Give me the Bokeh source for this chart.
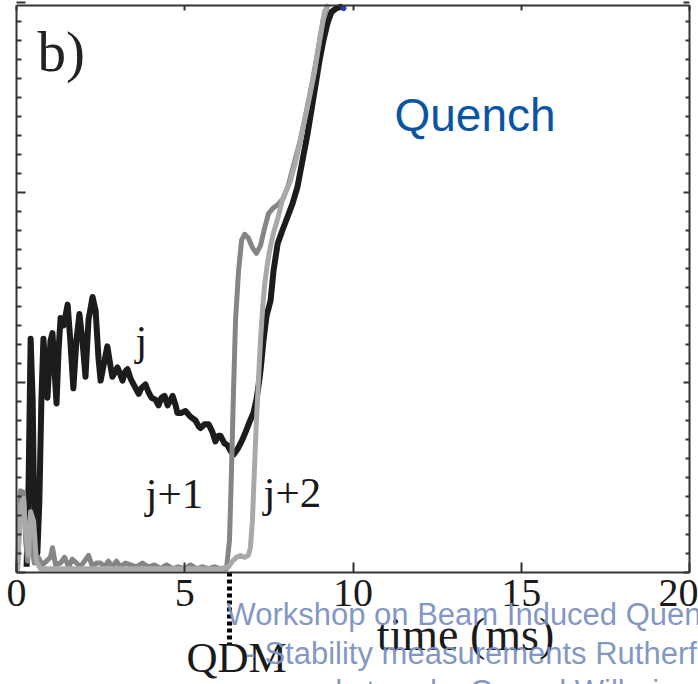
from bokeh.plotting import figure
from bokeh.models import Range1d, LinearAxis, FixedTicker, Label
from bokeh.embed import file_html
from bokeh.resources import INLINE

# ---------------- data (time in ms, signal in arbitrary units) ----------------
j_t = [0.30, 0.36, 0.42, 0.48, 0.53, 0.62, 0.68, 0.74, 0.80, 0.86, 0.92, 1.01, 1.07, 1.13, 1.19,
       1.25, 1.31, 1.40, 1.52, 1.60, 1.69, 1.78, 1.87, 1.96, 2.05, 2.14, 2.26, 2.35, 2.44, 2.50,
       2.62, 2.70, 2.79, 2.85, 2.94, 3.00, 3.09, 3.15, 3.24, 3.30, 3.39, 3.48, 3.57, 3.63, 3.71,
       3.83, 3.92, 4.01, 4.13, 4.22, 4.31, 4.40, 4.49, 4.58, 4.64, 4.73, 4.78, 4.90, 5.02, 5.17,
       5.32, 5.41, 5.47, 5.59, 5.71, 5.82, 5.91, 6.00, 6.06, 6.18, 6.27, 6.36, 6.45, 6.57, 6.69,
       6.81, 6.92, 7.04, 7.13, 7.19, 7.25, 7.34, 7.43, 7.55, 7.64, 7.76, 7.90, 8.05, 8.20, 8.35,
       8.50, 8.65, 8.77, 8.89, 9.00, 9.12, 9.24, 9.36, 9.51, 9.69]
j_v = [0.03, 0.48, 1.23, 0.91, 0.27, 0.10, 0.38, 0.91, 1.23, 1.06, 0.92, 1.22, 1.26, 1.06, 0.89,
       1.17, 1.34, 1.30, 1.41, 1.22, 0.97, 1.22, 1.36, 1.22, 1.03, 1.33, 1.45, 1.38, 1.12, 1.01,
       1.12, 1.19, 1.09, 1.03, 1.06, 1.08, 1.04, 1.01, 1.06, 1.07, 1.02, 0.99, 0.96, 0.94, 0.97,
       0.99, 0.95, 0.92, 0.91, 0.88, 0.92, 0.93, 0.88, 0.91, 0.93, 0.88, 0.84, 0.84, 0.85, 0.82,
       0.80, 0.77, 0.76, 0.78, 0.78, 0.74, 0.69, 0.72, 0.72, 0.68, 0.67, 0.64, 0.62, 0.65, 0.69,
       0.74, 0.79, 0.84, 0.91, 0.98, 1.06, 1.22, 1.35, 1.43, 1.59, 1.73, 1.80, 1.87, 1.94, 2.03,
       2.17, 2.31, 2.44, 2.57, 2.69, 2.80, 2.89, 2.95, 2.97, 2.98]

j1_t = [0.03, 0.09, 0.12, 0.21, 0.27, 0.33, 0.39, 0.45, 0.53, 0.65, 0.77, 0.89, 1.01, 1.07, 1.16,
        1.31, 1.43, 1.55, 1.66, 1.78, 1.90, 2.02, 2.14, 2.26, 2.38, 2.50, 2.62, 2.73, 2.85, 2.97,
        3.09, 3.24, 3.39, 3.57, 3.74, 3.92, 4.10, 4.28, 4.46, 4.64, 4.81, 4.99, 5.17, 5.35, 5.53,
        5.71, 5.88, 6.06, 6.24, 6.33, 6.39, 6.45, 6.51, 6.60, 6.69, 6.78, 6.89, 7.01, 7.13, 7.25,
        7.37, 7.49, 7.64, 7.79, 7.93, 8.08, 8.26, 8.44, 8.62, 8.80, 8.97, 9.12, 9.24]
j1_v = [0.01, 0.27, 0.43, 0.42, 0.17, 0.06, 0.25, 0.14, 0.05, 0.08, 0.04, 0.06, 0.08, 0.13, 0.04,
        0.05, 0.08, 0.03, 0.07, 0.05, 0.03, 0.06, 0.09, 0.03, 0.05, 0.05, 0.03, 0.06, 0.03, 0.06,
        0.03, 0.05, 0.04, 0.03, 0.05, 0.03, 0.04, 0.02, 0.04, 0.02, 0.03, 0.02, 0.04, 0.02, 0.03,
        0.02, 0.03, 0.02, 0.02, 0.17, 0.54, 0.96, 1.33, 1.59, 1.75, 1.78, 1.76, 1.71, 1.68, 1.72,
        1.81, 1.89, 1.92, 1.94, 1.97, 2.04, 2.16, 2.28, 2.43, 2.59, 2.76, 2.91, 2.98]

j2_t = [0.03, 0.12, 0.21, 0.27, 0.36, 0.42, 0.51, 0.59, 0.71, 1.01, 1.60, 2.50, 3.39, 4.28, 5.17,
        6.06, 6.30, 6.42, 6.54, 6.66, 6.78, 6.89, 6.95, 7.01, 7.07, 7.13, 7.19, 7.25, 7.31, 7.37,
        7.46, 7.55, 7.64, 7.76, 7.90, 8.14, 8.32, 8.50, 8.68, 8.86, 9.03, 9.15, 9.27]
j2_v = [0.01, 0.35, 0.39, 0.22, 0.09, 0.32, 0.27, 0.06, 0.02, 0.02, 0.02, 0.02, 0.02, 0.02, 0.02,
        0.02, 0.03, 0.06, 0.08, 0.09, 0.08, 0.09, 0.13, 0.27, 0.54, 0.80, 1.01, 1.22, 1.38, 1.51,
        1.63, 1.72, 1.79, 1.86, 1.96, 2.06, 2.18, 2.33, 2.48, 2.64, 2.83, 2.95, 2.99]

dot_t = [9.72]
dot_v = [2.97]

x_ticks = [0, 5, 10, 15, 20]
y_ticks = [0, 1, 2, 3]
y_minor = [round(0.1 * i, 1) for i in range(31) if i % 10 != 0]
qdm_t = 6.33
qdm_y = [0.0, -0.38]

X_MAX = 20.0
Y_TOP = 2.984

SERIF = "Liberation Serif"
SANS = "Liberation Sans"

# screen geometry of the frame: x=0 -> 16 px, x=20 -> 689 px, y=0 -> 572 px, 190 px per unit
SX, X0PX, SY, Y0PX = 33.65, 16.0, 190.0, 572.0
W, H = 698, 684

p = figure(width=W, height=H,
           x_range=Range1d(-X0PX / SX, (W - X0PX) / SX),
           y_range=Range1d(-(H - Y0PX) / SY, Y0PX / SY),
           output_backend="svg", toolbar_location=None,
           x_axis_location=None, y_axis_location=None,
           min_border_left=0, min_border_right=0, min_border_top=0, min_border_bottom=0)
p.xgrid.visible = False
p.ygrid.visible = False
p.outline_line_color = None
p.background_fill_color = "white"
p.border_fill_color = "white"

ax_col = "#333333"
blank_x = {t: "" for t in x_ticks}
blank_y = {t: "" for t in y_ticks}

bottom = LinearAxis(ticker=FixedTicker(ticks=x_ticks), fixed_location=0, bounds=(0, X_MAX),
                    major_tick_in=10, major_tick_out=0, minor_tick_in=0, minor_tick_out=0,
                    axis_line_width=2, axis_line_color=ax_col,
                    major_tick_line_width=2, major_tick_line_color=ax_col,
                    major_label_text_font=SERIF, major_label_text_font_size="40px",
                    major_label_text_color="#1a1a1a", major_label_standoff=7)
p.add_layout(bottom, "below")

top = LinearAxis(ticker=FixedTicker(ticks=x_ticks), fixed_location=Y_TOP, bounds=(0, X_MAX),
                 major_tick_in=5, major_tick_out=0, minor_tick_in=0, minor_tick_out=0,
                 axis_line_width=2, axis_line_color=ax_col,
                 major_tick_line_width=2, major_tick_line_color=ax_col,
                 major_label_overrides=blank_x)
p.add_layout(top, "above")

left = LinearAxis(ticker=FixedTicker(ticks=y_ticks, minor_ticks=y_minor), fixed_location=0,
                  bounds=(0, Y_TOP), major_tick_in=9, major_tick_out=0, minor_tick_in=5,
                  minor_tick_out=0, axis_line_width=2, axis_line_color=ax_col,
                  major_tick_line_width=2, major_tick_line_color=ax_col,
                  minor_tick_line_width=2, minor_tick_line_color=ax_col,
                  major_label_overrides=blank_y)
p.add_layout(left, "left")

right = LinearAxis(ticker=FixedTicker(ticks=y_ticks, minor_ticks=y_minor), fixed_location=X_MAX,
                   bounds=(0, Y_TOP), major_tick_in=6, major_tick_out=0, minor_tick_in=4,
                   minor_tick_out=0, axis_line_width=2, axis_line_color=ax_col,
                   major_tick_line_width=2, major_tick_line_color=ax_col,
                   minor_tick_line_width=2, minor_tick_line_color=ax_col,
                   major_label_overrides=blank_y)
p.add_layout(right, "right")

p.line(j_t, j_v, line_color="#1c1c1c", line_width=6, line_join="round")
p.line(j1_t, j1_v, line_color="#858585", line_width=5, line_join="round")
p.line(j2_t, j2_v, line_color="#a9a9a9", line_width=5, line_join="round")
p.scatter(dot_t, dot_v, size=5, color="#2b3cb0")

# QDM marker below the axis
p.line([qdm_t, qdm_t], qdm_y, line_color="black", line_width=5, line_dash="4 3")


def lab(text, px, py, font, size, color, align="left", alpha=1.0):
    # py is the wanted baseline in pixels; bokeh's alphabetic placement sits ~0.4em lower
    fs = float(size.replace("px", ""))
    yb = py - 0.4 * fs
    p.add_layout(Label(x=(px - X0PX) / SX, y=(Y0PX - yb) / SY, text=text, text_font=font,
                       text_font_size=size, text_color=color, text_align=align,
                       text_baseline="alphabetic", text_alpha=alpha))


lab("b)", 37, 74, SERIF, "57px", "#222222")
lab("Quench", 394, 133, SANS, "46px", "#0a55a2")
lab("j", 135, 357, SERIF, "42px", "#1a1a1a")
lab("j+1", 145, 510, SERIF, "43px", "#1a1a1a")
lab("j+2", 263, 509, SERIF, "43px", "#1a1a1a")
lab("time (ms)", 465, 652, SERIF, "46px", "#1a1a1a", align="center")
lab("QDM", 186, 674, SERIF, "43px", "#1a1a1a")

wm = "#7b91c1"
lab("Workshop on Beam Induced Quenches", 226, 626, SANS, "31px", wm, alpha=0.95)
lab("- Stability measurements Rutherford cables", 245, 665, SANS, "31px", wm, alpha=0.95)
lab("and strands, Gerard Willering", 290, 703, SANS, "31px", wm, alpha=0.95)

open("out.html", "w").write(file_html(p, INLINE))
